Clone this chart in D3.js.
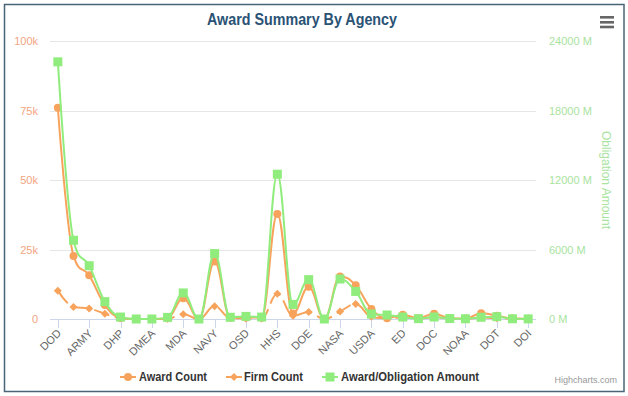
<!DOCTYPE html>
<html>
<head>
<meta charset="utf-8">
<script src="https://cdn.jsdelivr.net/npm/d3@7"></script>
<style>
  html, body { margin: 0; padding: 0; background: #fff; }
  svg { display: block; font-family: "Liberation Sans", Arial, sans-serif; }
</style>
</head>
<body>
<svg id="chart" width="628" height="396"></svg>
<script>
// ---------------- DATA ----------------
const categories = ["DOD","AF","ARMY","CBD","DHP","DARPA","DMEA","DTRA","MDA","NGA","NAVY","SOCOM","OSD","DLA","HHS","NIH","DOE","NRC","NASA","NSF","USDA","DHS","ED","EPA","DOC","NIST","NOAA","CDC","DOT","FDA","DOI"];
const awardCount = [76000,22700,15700,5000,400,0,0,300,7500,0,20700,500,500,500,37800,2000,11600,0,15300,12100,3600,300,1500,300,1900,300,200,2100,1200,200,100];
const firmCount  = [10200,4300,3800,1900,300,0,0,100,1700,0,4600,300,200,200,9100,1200,2500,0,2700,5400,800,300,500,200,600,200,100,500,300,100,50];
const obligation = [22200,6800,4600,1500,170,0,0,140,2250,0,5650,150,225,170,12500,1260,3400,0,3450,2380,430,345,170,30,170,40,20,150,200,20,10]; // millions
const leftTicks  = [0,25000,50000,75000,100000];
const leftTickLabels = ["0","25k","50k","75k","100k"];
const rightTicks = [0,6000,12000,18000,24000];
const rightTickLabels = ["0 M","6000 M","12000 M","18000 M","24000 M"];
const seriesNames = ["Award Count","Firm Count","Award/Obligation Amount"];
const titleText = "Award Summary By Agency";
const rightAxisTitle = "Obligation Amount";

// ---------------- LAYOUT ----------------
const svg = d3.select("#chart");
const plot = { left: 50, right: 536, top: 41, bottom: 319 };
const colOrange = "#f7a35c", colGreen = "#90ed7d";

// container border
svg.append("rect").attr("x",4.5).attr("y",4.5).attr("width",619.5).attr("height",387)
  .attr("fill","#fff").attr("stroke","#4a6577").attr("stroke-width",1.5);

const x = d3.scalePoint().domain(categories).range([plot.left, plot.right]).padding(0.5);
const yL = d3.scaleLinear().domain([0,100000]).range([plot.bottom, plot.top]);
const yR = d3.scaleLinear().domain([0,24000]).range([plot.bottom, plot.top]);

// title
svg.append("text").attr("x",302).attr("y",25).attr("text-anchor","middle")
  .attr("font-size",16).attr("font-weight","bold").attr("fill","#2a5275")
  .attr("textLength",190).attr("lengthAdjust","spacingAndGlyphs").text(titleText);

// hamburger
[16,21,25.7].forEach(yy => svg.append("rect").attr("x",600).attr("y",yy).attr("width",14).attr("height",2.6).attr("fill","#666"));

// gridlines
svg.append("g").selectAll("line").data(leftTicks).join("line")
  .attr("x1",plot.left).attr("x2",plot.right)
  .attr("y1",d=>Math.round(yL(d))+0.5).attr("y2",d=>Math.round(yL(d))+0.5)
  .attr("stroke","#e6e6e6").attr("stroke-width",1);

// left axis labels
svg.append("g").selectAll("text").data(leftTicks).join("text")
  .attr("x",38).attr("y",d=>yL(d)+4).attr("text-anchor","end")
  .attr("font-size",11).attr("fill","#f2a482").text((d,i)=>leftTickLabels[i]);

// right axis labels
svg.append("g").selectAll("text").data(rightTicks).join("text")
  .attr("x",549).attr("y",d=>yR(d)+4).attr("text-anchor","start")
  .attr("font-size",11).attr("fill","#a8e3a0").text((d,i)=>rightTickLabels[i]);

// right axis title
svg.append("text").attr("transform","translate(602,180) rotate(90)").attr("text-anchor","middle")
  .attr("font-size",12).attr("fill","#a8e3a0").text(rightAxisTitle);

// x axis line + ticks
svg.append("line").attr("x1",plot.left).attr("x2",plot.right).attr("y1",plot.bottom+0.5).attr("y2",plot.bottom+0.5)
  .attr("stroke","#ccd6eb").attr("stroke-width",1);
const shown = categories.filter((c,i)=>i%2===0);
svg.append("g").selectAll("line").data(shown).join("line")
  .attr("x1",d=>Math.round(x(d))+0.5).attr("x2",d=>Math.round(x(d))+0.5)
  .attr("y1",plot.bottom).attr("y2",plot.bottom+9)
  .attr("stroke","#ccd6eb").attr("stroke-width",1);
svg.append("g").selectAll("text").data(shown).join("text")
  .attr("transform",d=>`translate(${x(d)+4},${plot.bottom+15}) rotate(-45)`)
  .attr("text-anchor","end").attr("font-size",11).attr("fill","#666").text(d=>d);

// Highcharts-like spline
function splinePath(pts){
  const s = 1.5, den = s + 1;
  const ctrl = pts.map((p,i)=>{
    if(i===0 || i===pts.length-1) return null;
    const l = pts[i-1], n = pts[i+1];
    let lcx=(s*p[0]+l[0])/den, lcy=(s*p[1]+l[1])/den, rcx=(s*p[0]+n[0])/den, rcy=(s*p[1]+n[1])/den;
    if(rcx!==lcx){
      const c=((rcy-lcy)*(rcx-p[0]))/(rcx-lcx)+p[1]-rcy;
      lcy+=c; rcy+=c;
      if(lcy>l[1]&&lcy>p[1]){lcy=Math.max(l[1],p[1]);rcy=2*p[1]-lcy;}
      else if(lcy<l[1]&&lcy<p[1]){lcy=Math.min(l[1],p[1]);rcy=2*p[1]-lcy;}
      if(rcy>n[1]&&rcy>p[1]){rcy=Math.max(n[1],p[1]);lcy=2*p[1]-rcy;}
      else if(rcy<n[1]&&rcy<p[1]){rcy=Math.min(n[1],p[1]);lcy=2*p[1]-rcy;}
    }
    return {lcx,lcy,rcx,rcy};
  });
  const path = d3.path();
  pts.forEach((p,i)=>{
    if(i===0){path.moveTo(p[0],p[1]);return;}
    const a = ctrl[i-1], b = ctrl[i], q = pts[i-1];
    path.bezierCurveTo(a?a.rcx:q[0], a?a.rcy:q[1], b?b.lcx:p[0], b?b.lcy:p[1], p[0], p[1]);
  });
  return path.toString();
}

const series = [
  {name:seriesNames[0], data:awardCount, y:yL, color:colOrange, marker:"circle", dash:null},
  {name:seriesNames[1], data:firmCount, y:yL, color:colOrange, marker:"diamond", dash:"16,6"},
  {name:seriesNames[2], data:obligation, y:yR, color:colGreen, marker:"square", dash:null}
];

function drawMarker(g, type, cx, cy, color){
  if(type==="circle") g.append("circle").attr("cx",cx).attr("cy",cy).attr("r",4).attr("fill",color);
  else if(type==="square") g.append("rect").attr("x",cx-4.5).attr("y",cy-4.5).attr("width",9).attr("height",9).attr("fill",color);
  else g.append("path").attr("d",`M${cx},${cy-4}L${cx+4},${cy}L${cx},${cy+4}L${cx-4},${cy}Z`).attr("fill",color);
}

series.forEach(s=>{
  const g = svg.append("g");
  const pts = s.data.map((v,i)=>[x(categories[i]), s.y(v)]);
  g.append("path").attr("d",splinePath(pts)).attr("fill","none").attr("stroke",s.color)
    .attr("stroke-width",2).attr("stroke-dasharray",s.dash);
  pts.forEach(p=>drawMarker(g, s.marker, p[0], p[1], s.color));
});

// legend
const legendItems = [{x:120, tx:139, w:68},{x:226, tx:244, w:59},{x:322, tx:341, w:138}];
const ly = 377;
series.forEach((s,i)=>{
  const g = svg.append("g");
  const it = legendItems[i];
  g.append("line").attr("x1",it.x).attr("x2",it.x+16).attr("y1",ly).attr("y2",ly).attr("stroke",s.color).attr("stroke-width",2);
  drawMarker(g, s.marker, it.x+8, ly, s.color);
  g.append("text").attr("x",it.tx).attr("y",ly+4).attr("font-size",12).attr("font-weight","bold").attr("fill","#333")
    .attr("textLength",it.w).attr("lengthAdjust","spacingAndGlyphs").text(s.name);
});

// credits
svg.append("text").attr("x",617).attr("y",383).attr("text-anchor","end").attr("font-size",9).attr("fill","#999").text("Highcharts.com");
</script>
</body>
</html>
